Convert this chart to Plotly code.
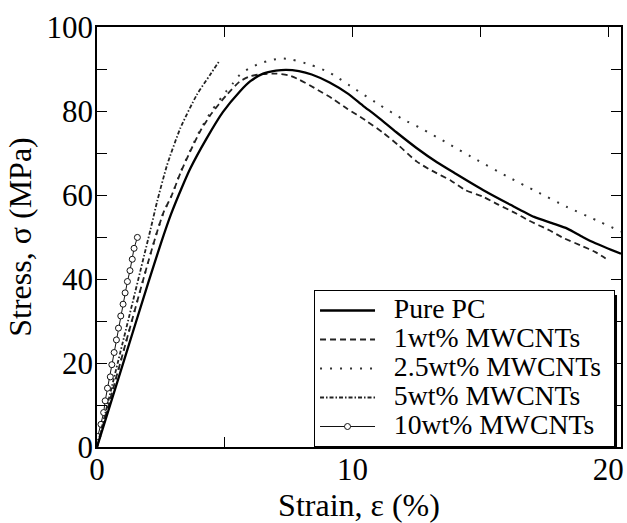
import plotly.graph_objects as go

# ---------------- data ----------------
pure_pc_x = [0, 1.0, 2.0, 2.5, 2.9, 3.3, 3.64, 4.29, 4.93, 5.58, 6.0, 6.5, 7.0, 7.4, 7.9, 8.4, 9.1, 9.8,
             10.4, 11.0, 11.7, 12.5, 13.3, 14.0, 15.1, 16.2, 17.1, 17.8, 18.4, 19.0, 19.5, 20.5]
pure_pc_y = [0, 19.5, 39.0, 48.5, 55.5, 61.5, 66.2, 73.5, 79.8, 84.6, 87.1, 88.9, 89.6, 89.8, 89.5, 88.7, 86.8, 84.2,
             81.3, 78.5, 75.0, 71.2, 67.8, 65.2, 61.2, 57.6, 54.8, 53.3, 52.0, 50.0, 48.5, 46.0]

wt1_x = [0, 1.0, 2.0, 2.35, 2.6, 2.93, 3.26, 3.64, 4.03, 4.48, 5.07, 5.58, 6.0, 6.5, 7.0, 7.5, 7.9, 8.5, 9.2,
         9.8, 10.5, 11.2, 11.8, 12.5, 13.1, 13.85, 14.4, 15.1, 15.7, 16.4, 16.9, 17.7, 18.2, 19.0, 19.5, 19.9]
wt1_y = [0, 22.0, 44.0, 51.2, 55.8, 60.0, 65.2, 70.3, 75.1, 79.4, 83.8, 87.0, 88.3, 88.8, 88.9, 88.5, 87.5, 85.5, 83.0,
         80.5, 77.8, 74.8, 71.8, 68.0, 65.8, 63.4, 61.2, 59.6, 57.7, 55.6, 53.9, 51.6, 49.9, 47.8, 46.4, 44.9]

wt25_x = [0, 1.0, 2.0, 2.35, 2.6, 2.93, 3.26, 3.64, 4.03, 4.48, 5.07, 5.32, 5.58, 5.97, 6.36, 6.81, 7.2, 7.58,
          8.36, 9.14, 10.1, 11.07, 11.98, 12.7, 13.72, 14.88, 16.05, 17.2, 18.37, 19.53, 20.5]
wt25_y = [0, 22.0, 44.0, 51.2, 55.8, 60.0, 65.3, 70.5, 75.4, 80.0, 84.8, 86.6, 88.6, 90.2, 91.3, 92.1, 92.5, 92.3,
          91.0, 89.0, 85.2, 81.4, 78.0, 75.8, 72.3, 68.3, 64.4, 60.8, 57.2, 54.0, 51.3]

wt5_x = [0, 1.0, 2.09, 2.35, 2.74, 3.26, 3.9, 4.42, 4.81]
wt5_y = [0, 24.7, 51.7, 58.4, 67.1, 75.9, 83.8, 88.6, 92.1]

wt10_x = [0.03, 0.155, 0.26, 0.32, 0.41, 0.52, 0.58, 0.67, 0.76, 0.84, 0.93, 1.02, 1.10, 1.19, 1.29, 1.38, 1.45, 1.58]
wt10_y = [2.5, 5.4, 8.2, 11.0, 14.0, 16.7, 19.6, 22.5, 25.5, 28.3, 31.2, 34.0, 36.7, 39.4, 42.0, 44.7, 47.3, 49.9]

series_names = ["Pure PC", "1wt% MWCNTs", "2.5wt% MWCNTs", "5wt% MWCNTs", "10wt% MWCNTs"]

x_ticks = [0, 10, 20]
y_ticks = [0, 20, 40, 60, 80, 100]

FONT = "Liberation Serif"
NB = "\u00a0"


def lname(s):
    return "<span style='font-size:27.7px'>" + NB + NB + s + NB + "</span>"


fig = go.Figure()
fig.add_trace(go.Scatter(x=wt10_x, y=wt10_y, mode="lines+markers", name=lname(series_names[4]),
                         line=dict(color="#111", width=1),
                         marker=dict(symbol="circle", size=6, color="white", line=dict(color="#111", width=1))))
fig.add_trace(go.Scatter(x=wt5_x, y=wt5_y, mode="lines", name=lname(series_names[3]),
                         line=dict(color="#222", width=1.8, dash="4px,2px,1.5px,2px", shape="spline", smoothing=0.6)))
fig.add_trace(go.Scatter(x=wt25_x, y=wt25_y, mode="lines", name=lname(series_names[2]),
                         line=dict(color="#333", width=2, dash="2px,8px", shape="spline", smoothing=0.6)))
fig.add_trace(go.Scatter(x=wt1_x, y=wt1_y, mode="lines", name=lname(series_names[1]),
                         line=dict(color="#222", width=1.8, dash="6px,4px", shape="spline", smoothing=0.6)))
fig.add_trace(go.Scatter(x=pure_pc_x, y=pure_pc_y, mode="lines", name=lname(series_names[0]),
                         line=dict(color="black", width=2.3, shape="spline", smoothing=0.6)))

# legend shadow
fig.add_shape(type="rect", xref="paper", yref="paper", x0=0.4213, x1=0.9924, y0=0.0, y1=0.3619,
              fillcolor="black", line=dict(width=0), layer="above")

fig.update_layout(
    width=627, height=523,
    margin=dict(l=97, r=3, t=27, b=76),
    paper_bgcolor="white", plot_bgcolor="white",
    font=dict(family=FONT, color="black", size=31),
    showlegend=True,
    legend=dict(x=0.9886, y=0.0, xanchor="right", yanchor="bottom",
                traceorder="reversed",
                bgcolor="white", bordercolor="black", borderwidth=1,
                font=dict(family=FONT, size=20, color="black"),
                itemwidth=55),
    xaxis=dict(range=[0, 20.5], tickvals=x_ticks, ticktext=[str(v) for v in x_ticks],
               ticks="inside", ticklen=10, tickwidth=1, tickcolor="black",
               minor=dict(dtick=5, tick0=0, ticks="inside", ticklen=10, tickwidth=1, tickcolor="black"),
               showline=True, linecolor="black", linewidth=1.5, mirror="ticks",
               showgrid=False, zeroline=False,
               tickfont=dict(family=FONT, size=31), ticklabelstandoff=-6,
               title=dict(text="Strain, ε (%)", font=dict(family=FONT, size=32), standoff=2)),
    yaxis=dict(range=[0, 100], tickvals=y_ticks, ticktext=[str(v) for v in y_ticks],
               ticks="inside", ticklen=10, tickwidth=1, tickcolor="black",
               minor=dict(dtick=10, tick0=0, ticks="inside", ticklen=10, tickwidth=1, tickcolor="black"),
               showline=True, linecolor="black", linewidth=1.5, mirror="ticks",
               showgrid=False, zeroline=False,
               tickfont=dict(family=FONT, size=31), ticklabelstandoff=-4,
               title=dict(text="Stress, σ (MPa)", font=dict(family=FONT, size=32), standoff=5)),
)

fig.write_html("out.html", config={"displayModeBar": False},
               post_script="document.body.style.margin='0';document.body.style.overflow='hidden';")
